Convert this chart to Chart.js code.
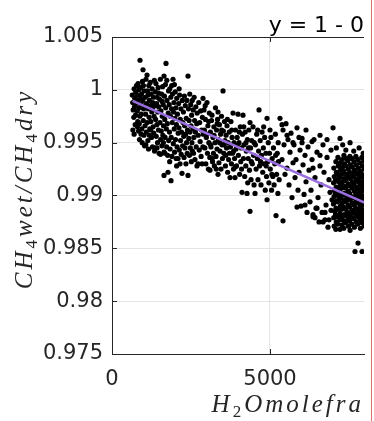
<!DOCTYPE html>
<html>
<head>
<meta charset="utf-8">
<script src="https://cdn.jsdelivr.net/npm/chart.js@4.4.1/dist/chart.umd.min.js"></script>
<style>
html, body { margin: 0; padding: 0; background: #fff; }
#wrap { width: 374px; height: 421px; position: relative; }
</style>
</head>
<body>
<div id="wrap"><canvas id="ratioChart"></canvas></div>
<script>
// H2O mole fraction (ppm) vs CH4 wet/dry ratio, one array per stretch of the humidity range
const samplesLow = [
  [640,0.9995],[655,0.9988],[670,0.9981],[700,1.0001],[690,0.9974],[720,0.9992],[735,0.9967],[660,0.9962],[710,0.9984],[750,0.9998],[745,0.9976],[700,0.9958],[760,0.9987],
  [775,1.0004],[790,0.9995],[800,0.9980],[815,0.9970],[830,0.9990],[840,0.9961],[850,1.0000],[860,0.9983],[870,0.9953],[880,0.9975],[886,1.0028],[895,0.9993],[805,0.9965],[825,1.0006],[865,0.9968],
  [905,1.0002],[915,0.9986],[925,0.9977],[935,0.9996],[945,0.9963],[955,0.9950],[965,1.0008],[975,0.9990],[981,1.0019],[990,0.9971],[1000,0.9982],[1010,0.9957],[1020,0.9999],[1030,0.9947],[1040,0.9985],[1045,0.9966],[920,0.9958],[995,1.0004],
  [1055,0.9993],[1065,0.9977],[1075,1.0010],[1085,0.9960],[1095,0.9987],[1108,1.0014],[1115,0.9969],[1125,0.9999],[1135,0.9952],[1145,0.9982],[1155,0.9944],[1165,1.0004],[1175,0.9974],[1185,0.9990],[1195,0.9963],[1070,0.9948],[1140,0.9995],[1180,0.9957],
  [1210,1.0007],[1220,0.9985],[1230,0.9970],[1240,0.9996],[1250,0.9955],[1260,0.9979],[1270,1.0001],[1280,0.9946],[1290,0.9988],[1300,0.9965],[1310,0.9993],[1320,0.9959],[1330,0.9975],[1340,1.0009],[1345,0.9942],[1225,0.9962],[1285,0.9981],[1335,0.9985],
  [1361,0.9945],[1370,0.9998],[1380,0.9972],[1390,1.0006],[1400,0.9956],[1410,0.9987],[1420,0.9967],[1430,0.9993],[1440,0.9950],[1450,0.9979],[1460,1.0002],[1470,0.9962],[1480,0.9984],[1490,0.9940],[1375,0.9985],[1425,0.9945],[1475,0.9997],
  [1510,0.9991],[1520,0.9969],[1530,1.0010],[1540,0.9953],[1550,0.9980],[1560,0.9961],[1570,0.9996],[1580,0.9947],[1590,0.9975],[1600,1.0003],[1610,0.9957],[1620,0.9986],[1630,0.9966],[1646,0.9941],[1646,1.0013],[1535,0.9939],[1585,0.9989],[1625,0.9950],
  [1660,0.9994],[1670,0.9972],[1680,0.9955],[1690,1.0005],[1700,0.9983],[1709,1.0025],[1720,0.9963],[1730,0.9946],[1740,0.9990],[1750,0.9968],[1760,0.9938],[1772,0.9922],[1646,0.9919],[1780,0.9978],[1790,0.9999],[1795,0.9952],[1675,0.9940],[1735,1.0009],
  [1810,0.9986],[1820,0.9960],[1830,1.0001],[1840,0.9944],[1850,0.9975],[1860,0.9993],[1867,0.9914],[1875,0.9955],[1885,0.9982],[1895,0.9937],[1905,0.9969],[1915,0.9996],[1931,1.0010],[1940,0.9949],[1945,0.9979],[1825,0.9932],[1890,1.0004],
  [1960,0.9988],[1970,0.9963],[1980,0.9941],[1990,0.9973],[2000,0.9998],[2010,0.9953],[2020,0.9983],[2030,0.9935],[2040,0.9967],[2050,0.9992],[2060,0.9946],[2070,0.9977],[2089,0.9935],[2095,0.9959],[1975,1.0005],[2045,0.9928],
  [2110,0.9987],[2120,0.9964],[2130,0.9943],[2140,0.9995],[2152,0.9930],[2160,0.9972],[2170,0.9952],[2180,0.9982],[2190,0.9939],[2200,0.9960],[2216,0.9921],[2225,0.9990],[2235,0.9947],[2245,0.9969],[2125,1.0001],
  [2260,0.9979],[2270,0.9956],[2280,0.9936],[2290,0.9994],[2300,0.9966],[2310,0.9945],[2320,0.9985],[2330,0.9958],[2340,0.9930],[2350,0.9973],[2360,0.9950],[2370,0.9990],[2380,0.9940],[2405,1.0013],[2405,0.9919],[2390,0.9962],
  [2420,0.9982],[2430,0.9954],[2440,0.9971],[2450,0.9938],[2460,0.9996],[2470,0.9960],[2480,0.9945],[2490,0.9986],[2500,0.9966],[2510,0.9932],[2520,0.9976],[2530,0.9950],[2540,0.9990],[2545,0.9942],
  [2560,0.9963],[2570,0.9981],[2580,0.9940],[2590,0.9955],[2600,0.9993],[2615,0.9971],[2625,0.9934],[2640,0.9960],[2655,0.9984],[2665,0.9946],[2680,0.9968],[2690,0.9928],[2695,0.9978],
  [2722,0.9930],[2730,0.9957],[2745,0.9988],[2760,0.9943],[2775,0.9969],[2790,0.9951],[2805,0.9980],[2820,0.9937],[2835,0.9962],[2849,0.9930],[2860,0.9974],[2875,0.9946],[2890,0.9958],[2880,0.9992]
];

const samplesMid = [
  [2912,0.9981],[2925,0.9962],[2940,0.9945],[2955,0.9972],[2970,0.9930],[2985,0.9955],[3007,0.9988],[3020,0.9940],[3035,0.9966],[3050,0.9925],[3065,0.9950],[3080,0.9978],[3095,0.9936],
  [3102,0.9924],[3115,0.9960],[3133,0.9946],[3150,0.9971],[3165,0.9976],[3180,0.9932],[3195,0.9955],[3210,0.9940],[3225,0.9965],[3240,0.9928],[3260,0.9950],[3275,0.9983],[3290,0.9937],
  [3310,0.9962],[3323,0.9944],[3340,0.9972],[3355,0.9979],[3355,0.9920],[3370,0.9953],[3385,0.9931],[3400,0.9967],[3420,0.9942],[3435,0.9958],[3450,0.9925],[3465,0.9975],[3480,0.9948],[3495,0.9935],
  [3513,0.9999],[3525,0.9961],[3540,0.9940],[3560,0.9970],[3575,0.9952],[3590,0.9928],[3610,0.9957],[3625,0.9945],[3640,0.9966],[3660,0.9922],[3675,0.9950],[3690,0.9934],
  [3710,0.9960],[3735,0.9917],[3750,0.9946],[3765,0.9970],[3780,0.9930],[3800,0.9955],[3815,0.9940],[3830,0.9978],[3845,0.9925],[3860,0.9950],[3880,0.9935],[3893,0.9917],
  [3910,0.9962],[3925,0.9944],[3940,0.9928],[3960,0.9955],[3988,0.9977],[4000,0.9938],[4020,0.9950],[4040,0.9920],[4060,0.9965],[4075,0.9932],[4090,0.9945],
  [4115,0.9903],[4130,0.9958],[4146,0.9976],[4160,0.9935],[4180,0.9948],[4200,0.9918],[4215,0.9960],[4235,0.9928],[4250,0.9942],[4273,0.9902],[4285,0.9953],[4295,0.9912],
  [4310,0.9935],[4330,0.9962],[4350,0.9924],[4368,0.9969],[4368,0.9885],[4385,0.9945],[4400,0.9915],[4420,0.9952],[4440,0.9930],[4463,0.9965],[4480,0.9938],[4495,0.9910],
  [4526,0.9902],[4540,0.9948],[4560,0.9925],[4580,0.9958],[4600,0.9935],[4620,0.9915],[4640,0.9942],[4653,0.9981],[4670,0.9928],[4690,0.9952],
  [4716,0.9910],[4730,0.9938],[4750,0.9960],[4770,0.9922],[4790,0.9945],[4810,0.9930],[4830,0.9955],[4850,0.9905],[4870,0.9940],[4890,0.9918],
  [4906,0.9973],[4906,0.9896],[4925,0.9932],[4945,0.9950],[4965,0.9912],[4985,0.9940],[5010,0.9925],[5030,0.9955],[5050,0.9905],[5070,0.9935],[5090,0.9918],
  [5110,0.9945],[5130,0.9910],[5150,0.9930],[5170,0.9958],[5191,0.9881],[5210,0.9920],[5230,0.9940],[5250,0.9902],[5270,0.9932],[5290,0.9915],
  [2950,0.9985],[3000,0.9958],[3060,0.9970],[3120,0.9948],[3170,0.9935],[3230,0.9957],[3300,0.9925],[3330,0.9968],[3410,0.9950],[3470,0.9962],
  [3530,0.9948],[3600,0.9938],[3650,0.9972],[3720,0.9940],[3790,0.9962],[3850,0.9942],[3900,0.9927],[3970,0.9948],[4030,0.9960],[4100,0.9925],
  [4170,0.9965],[4240,0.9950],[4320,0.9945],[4410,0.9932],[4500,0.9950],[4610,0.9962],[4700,0.9932],[4800,0.9965],[4880,0.9928],[5000,0.9962],
  [5060,0.9920],[5180,0.9938],[5260,0.9950]
];

const samplesHigh = [
  [5316,0.9973],[5412,0.9962],[5507,0.9968],[5570,0.9953],[5633,0.9941],[5665,0.9959],[5760,0.9948],[5824,0.9934],[5855,0.9964],[5918,0.9922],
  [5950,0.9943],[6014,0.9954],[6045,0.9929],[6108,0.9938],[6140,0.9913],[6203,0.9946],[6235,0.9924],[6298,0.9905],[6330,0.9934],[6393,0.9953],
  [6425,0.9917],[6488,0.9941],[6520,0.9898],[6583,0.9928],[6615,0.9910],[6678,0.9948],[6710,0.9922],[6773,0.9891],[6805,0.9936],[6868,0.9915],
  [6900,0.9903],[6931,0.9943],[5380,0.9934],[5475,0.9920],[5602,0.9910],[5697,0.9898],[5792,0.9917],[5887,0.9905],[5982,0.9890],[6077,0.9901],
  [6172,0.9884],[6267,0.9894],[6362,0.9880],[6457,0.9888],[6552,0.9875],[6647,0.9884],[6741,0.9877],[6836,0.9870],[6931,0.9886],[5444,0.9948],
  [5539,0.9926],[5729,0.9931],[5918,0.9955],[6140,0.9962],[6362,0.9926],[6583,0.9957],[6805,0.9953],[6995,0.9964],[5412,0.9876],[6362,0.9882],
  [6425,0.9879],[6678,0.9875],[6868,0.9877],[5855,0.9889],[6108,0.9891],[6488,0.9888],[6741,0.9884],[6963,0.9896],[5539,0.9957],[5729,0.9950],
  [6014,0.9950],[6330,0.9951],[6583,0.9938],[5380,0.9967]
];

const samplesWet = [
  [7020,0.9926],[7035,0.9918],[7012,0.9912],[7040,0.9905],[7028,0.9899],[7008,0.9892],[7045,0.9885],[7018,0.9879],[7032,0.9871],
  [7085,0.9932],[7100,0.9922],[7078,0.9915],[7095,0.9908],[7070,0.9902],[7105,0.9895],[7088,0.9888],[7075,0.9882],[7098,0.9875],[7083,0.9868],
  [7150,0.9936],[7160,0.9928],[7142,0.9920],[7168,0.9913],[7148,0.9907],[7157,0.9900],[7139,0.9894],[7165,0.9887],[7152,0.9880],[7145,0.9873],
  [7216,0.9954],[7210,0.9931],[7225,0.9924],[7205,0.9917],[7230,0.9910],[7218,0.9903],[7202,0.9897],[7228,0.9890],[7212,0.9883],[7222,0.9877],[7216,0.9868],
  [7275,0.9934],[7288,0.9927],[7268,0.9920],[7292,0.9913],[7280,0.9907],[7265,0.9900],[7285,0.9893],[7272,0.9887],[7290,0.9880],[7278,0.9872],
  [7340,0.9938],[7352,0.9930],[7333,0.9923],[7348,0.9916],[7338,0.9909],[7356,0.9902],[7345,0.9896],[7330,0.9889],[7350,0.9882],[7342,0.9876],[7336,0.9869],
  [7400,0.9943],[7412,0.9935],[7395,0.9928],[7418,0.9920],[7404,0.9914],[7392,0.9907],[7415,0.9900],[7408,0.9894],[7398,0.9887],[7420,0.9881],[7402,0.9874],
  [7465,0.9933],[7478,0.9925],[7458,0.9918],[7472,0.9911],[7480,0.9904],[7462,0.9898],[7475,0.9891],[7455,0.9884],[7470,0.9878],[7484,0.9871],
  [7533,0.9950],[7528,0.9937],[7540,0.9929],[7522,0.9922],[7545,0.9916],[7530,0.9909],[7518,0.9902],[7538,0.9896],[7526,0.9889],[7542,0.9882],[7520,0.9876],[7535,0.9867],
  [7590,0.9935],[7602,0.9927],[7585,0.9920],[7608,0.9913],[7595,0.9907],[7582,0.9899],[7600,0.9893],[7592,0.9886],[7605,0.9879],[7588,0.9873],
  [7655,0.9932],[7668,0.9924],[7648,0.9918],[7662,0.9911],[7672,0.9904],[7652,0.9898],[7665,0.9891],[7645,0.9884],[7660,0.9878],[7670,0.9870],[7690,0.9847],
  [7718,0.9937],[7730,0.9929],[7712,0.9922],[7726,0.9915],[7735,0.9908],[7715,0.9902],[7728,0.9895],[7708,0.9888],[7722,0.9882],[7732,0.9875],
  [7780,0.9934],[7792,0.9926],[7775,0.9920],[7798,0.9913],[7784,0.9906],[7772,0.9900],[7790,0.9893],[7782,0.9886],[7795,0.9880],[7778,0.9873],[7786,0.9855],
  [7845,0.9931],[7858,0.9923],[7838,0.9917],[7852,0.9910],[7862,0.9903],[7842,0.9897],[7855,0.9890],[7835,0.9883],[7850,0.9877],[7860,0.9869],
  [7908,0.9936],[7920,0.9928],[7902,0.9920],[7915,0.9913],[7925,0.9907],[7905,0.9900],[7918,0.9894],[7898,0.9887],[7912,0.9880],[7922,0.9874],[7913,0.9847],
  [7970,0.9933],[7982,0.9925],[7965,0.9917],[7978,0.9911],[7988,0.9904],[7968,0.9898],[7980,0.9891],[7960,0.9884],[7975,0.9878],[7985,0.9871],
  [8035,0.9930],[8045,0.9922],[8028,0.9915],[8040,0.9908],[8050,0.9902],[8032,0.9895],[8042,0.9888],[8025,0.9882],[8038,0.9875],
  [7100,0.9945],[7300,0.9948],[7650,0.9942],[7820,0.9945],[7950,0.9940]
];

// linear fit through the cloud
const fitX = [650, 8100];
const fitY = [0.99895, 0.98919];

const xTicks = [0, 5000];
const xTickLabels = ['0', '5000'];
const yTicks = [0.975, 0.98, 0.985, 0.99, 0.995, 1, 1.005];
const yTickLabels = ['0.975', '0.98', '0.985', '0.99', '0.995', '1', '1.005'];

const axisInk = '#262626';
const tickFont = { family: 'DejaVu Sans', size: 21 };
const mathFont = 'italic 25px "Liberation Serif"';
const subFont = '17px "Liberation Serif"';

function toXY(pairs) {
    return pairs.map(p => ({ x: p[0], y: p[1] }));
}

// draws a run of text pieces (with lowered subscripts) starting left of x by its full width
function drawMathText(ctx, parts, x, y, align) {
    let total = 0;
    const widths = parts.map(p => {
        ctx.font = p.font;
        const w = ctx.measureText(p.text).width;
        total += w;
        return w;
    });
    let cx = align === 'right' ? x - total : x - total / 2;
    parts.forEach((p, i) => {
        ctx.font = p.font;
        ctx.fillText(p.text, cx, y + p.shift);
        cx += widths[i];
    });
}

const axisDecor = {
    id: 'axisDecor',
    afterDraw(chart) {
        const ctx = chart.ctx;
        const area = chart.chartArea;
        const xs = chart.scales.x;
        const ys = chart.scales.y;

        ctx.save();
        ctx.strokeStyle = axisInk;
        ctx.lineWidth = 1;
        ctx.beginPath();
        ctx.moveTo(area.left, area.top + 0.5);
        ctx.lineTo(area.right, area.top + 0.5);
        yTicks.forEach(v => {
            const p = Math.round(ys.getPixelForValue(v)) + 0.5;
            ctx.moveTo(area.left, p);
            ctx.lineTo(area.left + 5, p);
        });
        xTicks.forEach(v => {
            const p = Math.round(xs.getPixelForValue(v)) + 0.5;
            ctx.moveTo(p, area.bottom);
            ctx.lineTo(p, area.bottom - 5);
            ctx.moveTo(p, area.top);
            ctx.lineTo(p, area.top + 5);
        });
        ctx.stroke();

        // panel separator on the right
        ctx.strokeStyle = '#e07070';
        ctx.beginPath();
        ctx.moveTo(371.5, 0);
        ctx.lineTo(371.5, chart.height);
        ctx.stroke();

        ctx.fillStyle = '#000';
        ctx.textBaseline = 'alphabetic';
        ctx.textAlign = 'right';
        ctx.font = '22px "DejaVu Sans"';
        ctx.fillText('y = 1 - 0', area.right, 32);

        ctx.textAlign = 'left';
        ctx.fillStyle = '#262626';
        ctx.letterSpacing = '3px';
        drawMathText(ctx, [
            { text: 'H', font: mathFont, shift: 0 },
            { text: '2', font: subFont, shift: 5 },
            { text: 'Omolefra', font: mathFont, shift: 0 }
        ], area.right, 412, 'right');

        ctx.translate(32, 189);
        ctx.rotate(-Math.PI / 2);
        drawMathText(ctx, [
            { text: 'CH', font: mathFont, shift: 0 },
            { text: '4', font: subFont, shift: 5 },
            { text: 'wet/CH', font: mathFont, shift: 0 },
            { text: '4', font: subFont, shift: 5 },
            { text: 'dry', font: mathFont, shift: 0 }
        ], 0, 0, 'center');
        ctx.restore();
    }
};

const pointStyle = {
    type: 'scatter',
    pointRadius: 2.6,
    pointHoverRadius: 2.6,
    backgroundColor: '#000',
    borderWidth: 0,
    clip: 0
};

new Chart(document.getElementById('ratioChart').getContext('2d'), {
    type: 'scatter',
    data: {
        datasets: [
            {
                type: 'line',
                data: fitX.map((x, i) => ({ x: x, y: fitY[i] })),
                borderColor: '#9b6ee0',
                borderWidth: 2.5,
                pointRadius: 0,
                showLine: true,
                fill: false,
                clip: 0
            },
            Object.assign({ data: toXY(samplesLow) }, pointStyle),
            Object.assign({ data: toXY(samplesMid) }, pointStyle),
            Object.assign({ data: toXY(samplesHigh) }, pointStyle),
            Object.assign({ data: toXY(samplesWet) }, pointStyle)
        ]
    },
    options: {
        responsive: true,
        maintainAspectRatio: false,
        animation: false,
        events: [],
        layout: { padding: { top: 37, right: 10, bottom: 0, left: 0 } },
        plugins: {
            legend: { display: false },
            title: { display: false },
            tooltip: { enabled: false }
        },
        scales: {
            x: {
                type: 'linear',
                position: 'bottom',
                min: 0,
                max: 7975,
                afterBuildTicks: s => { s.ticks = xTicks.map(v => ({ value: v })); },
                afterFit: s => { s.height = 67; },
                ticks: {
                    callback: (v, i) => xTickLabels[i],
                    font: tickFont,
                    color: axisInk,
                    padding: 13,
                    maxRotation: 0
                },
                grid: { color: '#e4e4e4', drawTicks: false },
                border: { color: axisInk, width: 1 }
            },
            y: {
                type: 'linear',
                position: 'left',
                min: 0.975,
                max: 1.005,
                afterBuildTicks: s => { s.ticks = yTicks.map(v => ({ value: v })); },
                afterFit: s => { s.width = 112; },
                ticks: {
                    callback: (v, i) => yTickLabels[i],
                    font: tickFont,
                    color: axisInk,
                    padding: 9
                },
                grid: { color: '#e4e4e4', drawTicks: false },
                border: { color: axisInk, width: 1 }
            }
        }
    },
    plugins: [axisDecor]
});
</script>
</body>
</html>
